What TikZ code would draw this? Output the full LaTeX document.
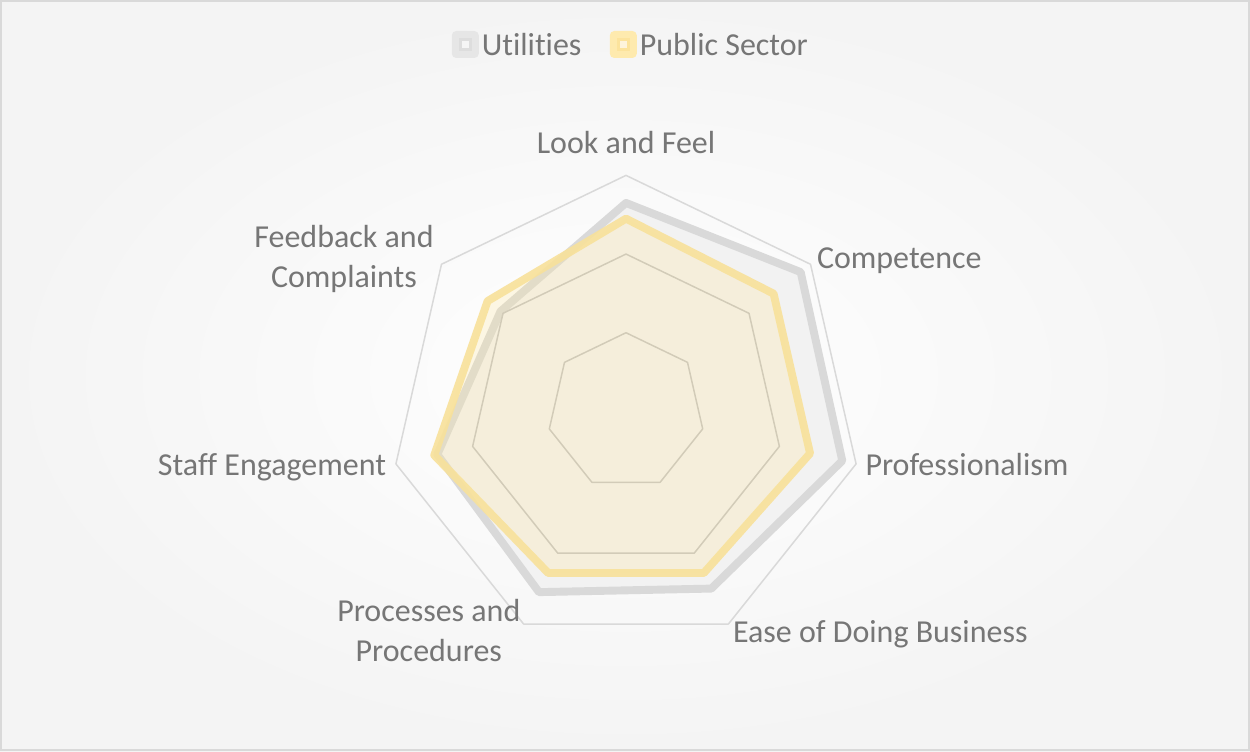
\documentclass[tikz,border=0pt]{standalone}
\usepackage{fontspec}
\setmainfont{Carlito}[Ligatures=NoCommon]
\usetikzlibrary{positioning}
\definecolor{txtgrey}{HTML}{767676}
\definecolor{gridgrey}{HTML}{D9D9D9}
\definecolor{ringgrey}{HTML}{C3C3C3}
\definecolor{utilline}{HTML}{D9D9D9}
\definecolor{utilfill}{HTML}{F2F2F2}
\definecolor{publine}{HTML}{F8E19A}
\definecolor{pubfill}{HTML}{FFE699}
\definecolor{bggrey}{HTML}{F4F4F4}
\definecolor{keyUout}{HTML}{E6E6E6}
\definecolor{keyUmid}{HTML}{DDDDDD}
\definecolor{keyUdot}{HTML}{F5F5F5}
\definecolor{keyPout}{HTML}{FEEAAE}
\definecolor{keyPmid}{HTML}{FCE39C}
\definecolor{keyPdot}{HTML}{FEF4DC}
\tikzset{%
   lbl/.style={
      text=txtgrey,
      font=\fontsize{18.2}{22.7}\selectfont,
      inner sep=0pt,
      outer sep=0pt
   },
   ring/.style={
      draw=#1,
      line width=0.85pt,
      line join=round
   },
   utils/.style={
      draw=utilline,
      fill=utilfill,
      line width=4.5pt,
      line join=round
   },
   pubs/.style={
      draw=publine,
      draw opacity=0.9,
      fill=pubfill,
      fill opacity=0.25,
      line width=4.5pt,
      line join=round
   },
   keybox/.style={
      rounded corners=2.5pt,
      inner sep=0pt,
      minimum size=0.54cm
   },
   keymid/.style={
      inner sep=0pt,
      minimum size=0.27cm
   },
   keydot/.style={
      inner sep=0pt,
      minimum size=0.13cm
   },
}

\begin{document}
\begin{tikzpicture}[x=0.02cm, y=0.02cm]
   \useasboundingbox (0,0) rectangle (1250,751);
   \shade[inner color=white, outer color=bggrey] (0,0) rectangle (1250,751);
   \draw[gridgrey, line width=1.1pt] (1,1) rectangle (1249,750);

   \begin{scope}[shift={(626,339.6)}]
      \def\ring{78.67}
      \foreach \v [count=\i] in {2.65,2.84,2.82,2.5,2.55,2.46,2.04}
         \coordinate (u\i) at ({90-(\i-1)*360/7}:{\v*\ring});
      \foreach \v [count=\i] in {2.45,2.4,2.4,2.28,2.28,2.5,2.25}
         \coordinate (p\i) at ({90-(\i-1)*360/7}:{\v*\ring});
      \path[utils] (u1) -- (u2) -- (u3) -- (u4) -- (u5) -- (u6) -- (u7) -- cycle;
      \foreach \k/\c in {1/ringgrey, 2/ringgrey, 3/gridgrey}
         \draw[ring=\c] (90:{\k*\ring})
            \foreach \i in {1,...,6} { -- ({90-\i*360/7}:{\k*\ring}) } -- cycle;
      \path[pubs] (p1) -- (p2) -- (p3) -- (p4) -- (p5) -- (p6) -- (p7) -- cycle;
   \end{scope}

   \node[lbl, anchor=base] (look) at (626,597) {Look and Feel};
   \node[lbl, anchor=base west] (comp) at (817,482.7) {Competence};
   \node[lbl, anchor=base west] (prof) at (865.5,276) {Professionalism};
   \node[lbl, anchor=base west] (ease) at (733,108.7) {Ease of Doing Business};
   \node[lbl, anchor=base, align=center] (proc) at (428.8,89.3) {Processes and\\Procedures};
   \node[lbl, anchor=base east] (staff) at (386,276) {Staff Engagement};
   \node[lbl, anchor=base, align=center] (feed) at (344,463.7) {Feedback and\\Complaints};

   \node[keybox, fill=keyUout] (keyU) at (465.3,706.5) {};
   \node[keymid, fill=keyUmid] at (keyU) {};
   \node[keydot, fill=keyUdot] at (keyU) {};
   \node[lbl, right=1.5pt of keyU] (txtU) {Utilities};
   \node[keybox, fill=keyPout, right=0.56cm of txtU] (keyP) {};
   \node[keymid, fill=keyPmid] at (keyP) {};
   \node[keydot, fill=keyPdot] at (keyP) {};
   \node[lbl, right=1.5pt of keyP] (txtP) {Public Sector};
\end{tikzpicture}
\end{document}
